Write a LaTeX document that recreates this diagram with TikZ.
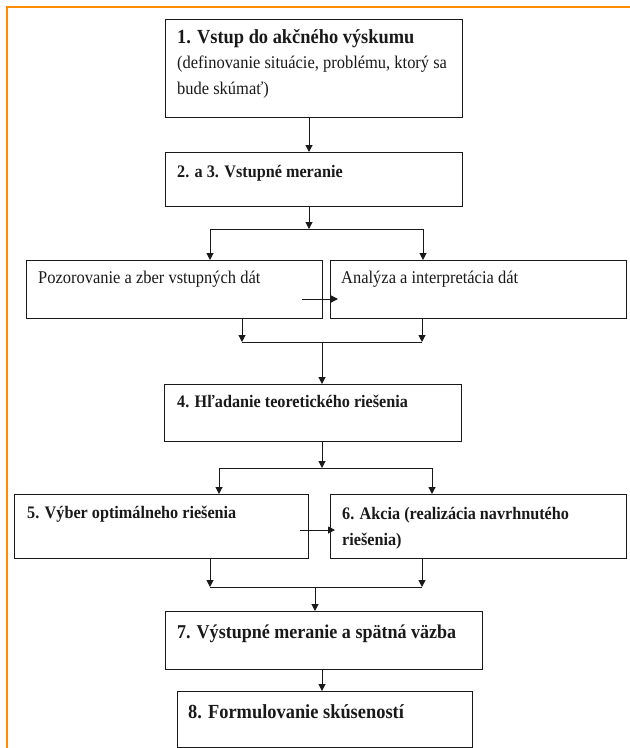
\documentclass[tikz,border=0pt]{standalone}
\usepackage{fontspec}
\setmainfont{Liberation Serif}[FakeStretch=0.92]
\usetikzlibrary{arrows.meta,calc}
\definecolor{frameorange}{RGB}{255,140,0}
\definecolor{ink}{RGB}{25,25,25}
\begin{document}
\begin{tikzpicture}[x=1pt,y=-1pt,
  box/.style={draw=ink,line width=1.3pt,rectangle,inner sep=0pt,anchor=north west},
  lbl/.style={anchor=base west,inner sep=0pt,text=ink,font=\fontsize{17.9}{25}\selectfont},
  lblb/.style={lbl,font=\fontsize{17.6}{25}\selectfont\bfseries},
  lbltitle/.style={lbl,font=\fontsize{20}{25}\selectfont\bfseries},
  lblbig/.style={lbl,font=\fontsize{19.6}{25}\selectfont\bfseries},
  conn/.style={draw=ink,line width=1pt},
  arr/.style={conn,-{Triangle[length=7pt,width=7pt]}},
  frame/.style={draw=frameorange,line width=2.7pt,line join=miter}
]
\useasboundingbox (0,0) rectangle (630,748);

% orange frame along the top and left edges
\draw[frame] (630,7) -- (7,7) -- (7,748);

% boxes
\node[box,minimum width=297pt,minimum height=98pt] (b1) at (165,19) {};
\node[box,minimum width=297pt,minimum height=54pt] (b2) at (165,152) {};
\node[box,minimum width=296pt,minimum height=58pt] (bp) at (26,260) {};
\node[box,minimum width=296pt,minimum height=58pt] (ba) at (330,260) {};
\node[box,minimum width=297pt,minimum height=57pt] (b4) at (164,384) {};
\node[box,minimum width=294pt,minimum height=64pt] (b5) at (14,494) {};
\node[box,minimum width=296pt,minimum height=64pt] (b6) at (330,494) {};
\node[box,minimum width=317pt,minimum height=58pt] (b7) at (165,611) {};
\node[box,minimum width=295pt,minimum height=56pt] (b8) at (177,691) {};

% labels
\node[lbltitle] (t1a) at ($(b1.north west)+(12,24)$) {1. Vstup do akčného výskumu};
\node[lbl]  (t1b) at ($(b1.north west)+(12,49)$) {(definovanie situácie, problému, ktorý sa};
\node[lbl]  (t1c) at ($(b1.north west)+(12,75)$) {bude skúmať)};
\node[lblb] (t2)  at ($(b2.north west)+(12,25)$) {2. a 3. Vstupné meranie};
\node[lbl]  (tp)  at ($(bp.north west)+(12,23)$) {Pozorovanie a zber vstupných dát};
\node[lbl]  (ta)  at ($(ba.north west)+(11,23)$) {Analýza a interpretácia dát};
\node[lblb] (t4)  at ($(b4.north west)+(13,23)$) {4. Hľadanie teoretického riešenia};
\node[lblb] (t5)  at ($(b5.north west)+(13,24)$) {5. Výber optimálneho riešenia};
\node[lblb] (t6a) at ($(b6.north west)+(12,25)$) {6. Akcia (realizácia navrhnutého};
\node[lblb] (t6b) at ($(b6.north west)+(12,51)$) {riešenia)};
\node[lblbig] (t7) at ($(b7.north west)+(12,27)$) {7. Výstupné meranie a spätná väzba};
\node[lbltitle] (t8) at ($(b8.north west)+(11,27)$) {8. Formulovanie skúseností};

% junction points
\coordinate (x1) at (309,0);
\coordinate (s1l) at (210,229);
\coordinate (s1m) at (309,229);
\coordinate (s1r) at (423,229);
\coordinate (h1s) at (302,299);
\coordinate (h1e) at (338,299);
\coordinate (m1l) at (242,342);
\coordinate (m1m) at (322,342);
\coordinate (m1r) at (422,342);
\coordinate (s2l) at (219,468);
\coordinate (s2m) at (322,468);
\coordinate (s2r) at (432,468);
\coordinate (h2s) at (300,530);
\coordinate (h2e) at (335,530);
\coordinate (m2l) at (210,587);
\coordinate (m2m) at (315,587);
\coordinate (m2r) at (422,587);
\coordinate (x8) at (322,0);

% connectors
\draw[arr] (b1.south -| x1) -- (b2.north -| x1);
\draw[arr] (b2.south -| s1m) -- (s1m);
\draw[conn] (s1l) -- (s1r);
\draw[arr] (s1l) -- (bp.north -| s1l);
\draw[arr] (s1r) -- (ba.north -| s1r);
\draw[arr] (h1s) -- (h1e);
\draw[arr] (bp.south -| m1l) -- (m1l);
\draw[arr] (ba.south -| m1r) -- (m1r);
\draw[conn] (m1l) -- (m1r);
\draw[arr] (m1m) -- (b4.north -| m1m);
\draw[arr] (b4.south -| s2m) -- (s2m);
\draw[conn] (s2l) -- (s2r);
\draw[arr] (s2l) -- (b5.north -| s2l);
\draw[arr] (s2r) -- (b6.north -| s2r);
\draw[arr] (h2s) -- (h2e);
\draw[arr] (b5.south -| m2l) -- (m2l);
\draw[arr] (b6.south -| m2r) -- (m2r);
\draw[conn] (m2l) -- (m2r);
\draw[arr] (m2m) -- (b7.north -| m2m);
\draw[arr] (b7.south -| x8) -- (b8.north -| x8);
\end{tikzpicture}
\end{document}
